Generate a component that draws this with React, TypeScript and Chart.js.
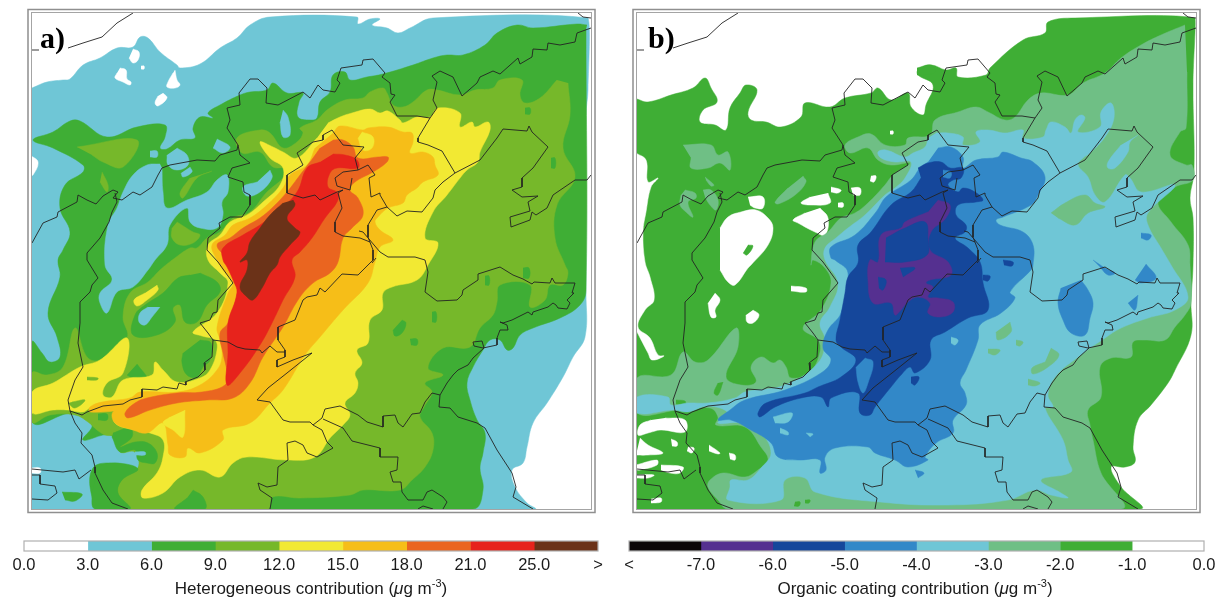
import React, { useEffect, useRef } from "react";
import { Chart, registerables } from "chart.js";

Chart.register(...registerables);

type Pair = number[];
type Ring = Pair[];

// ---------- class colours ----------
const WHITE = "#ffffff", TEAL = "#6fc6d6", GREEN = "#3fae35", LIME = "#76b82a", YELLOW = "#f2e933",
  AMBER = "#f6be18", ORANGE = "#ea6520", RED = "#e7231c", BROWN = "#6b3218";
const BLACK = "#0b0508", PURPLE = "#553090", NAVY = "#15479b", BLUE = "#3288c8", SEA = "#6fbf85";

// ---------- colour bars ----------
const heteroTicks = ["0.0", "3.0", "6.0", "9.0", "12.0", "15.0", "18.0", "21.0", "25.0", ">"];
const heteroClasses = [WHITE, TEAL, GREEN, LIME, YELLOW, AMBER, ORANGE, RED, BROWN];
const organicTicks = ["<", "-7.0", "-6.0", "-5.0", "-4.0", "-3.0", "-2.0", "-1.0", "0.0"];
const organicClasses = [BLACK, PURPLE, NAVY, BLUE, TEAL, SEA, GREEN, WHITE];

// ---------- panel a contours (map grid units) ----------
const aTeal: Ring = [[32,88],[47,82],[63,80],[70,79],[83,65],[100,58],[117,48],[133,47],[140,37],[148,38],[160,52],[177,65],[180,68],[200,64],[220,48],[237,38],[250,25],[270,17],[357,17],[358,24],[370,19],[380,19],[372,25],[387,28],[398,33],[410,28],[433,18],[588,18],[588,90],[586,115],[586,293],[585,337],[573,357],[563,377],[547,403],[533,423],[527,447],[523,463],[512,470],[515,487],[527,503],[535,509],[32,509]];
const aGaps: Ring[] = [
  [[133,49],[139,52],[138,60],[133,63],[129,58]],
  [[120,68],[126,70],[127,79],[131,82],[130,85],[123,82],[115,78],[117,73]],
  [[141,66],[144,66],[144,69],[141,69]],
  [[175,70],[177,80],[180,85],[175,88],[167,87],[168,82],[173,73]],
  [[163,93],[167,98],[158,106],[155,103],[158,96]],
  [[153,216],[157,220],[148,228],[140,232],[137,227],[143,218]],
  [[30,155],[38,162],[33,175],[30,175]],
  [[30,468],[40,468],[40,473],[30,473]],
];
const aGreen: Ring = [[587,25],[577,24],[533,28],[517,25],[497,33],[485,45],[463,55],[447,55],[433,58],[413,65],[383,74],[367,77],[350,80],[345,72],[333,75],[330,92],[320,102],[317,118],[310,120],[298,117],[299,102],[303,93],[287,93],[273,83],[267,90],[250,92],[240,95],[220,105],[208,113],[213,118],[200,117],[193,128],[195,138],[180,140],[167,149],[160,148],[165,137],[165,125],[137,127],[107,137],[80,121],[70,121],[53,132],[33,140],[53,148],[83,165],[83,172],[65,185],[60,208],[70,232],[63,250],[58,260],[60,277],[48,313],[57,337],[60,357],[50,362],[42,353],[32,342],[32,422],[73,413],[92,425],[83,440],[110,435],[120,450],[135,452],[138,468],[115,463],[93,468],[92,497],[103,509],[473,509],[483,490],[480,468],[483,453],[485,433],[477,420],[470,400],[467,383],[473,367],[483,350],[490,340],[500,340],[507,350],[513,348],[520,335],[533,328],[560,318],[580,305],[586,290],[586,30]];
const aLakes: Ring[] = [
  [[160,164],[147,165],[133,175],[123,192],[117,208],[108,225],[105,265],[112,280],[100,293],[100,303],[107,313],[117,292],[133,287],[148,270],[155,260],[167,245],[170,225],[187,208],[190,222],[200,228],[217,228],[223,215],[222,202],[228,192],[227,175],[217,180],[207,192],[187,200],[167,208],[163,192],[162,168]],
  [[283,110],[288,117],[290,135],[283,137],[280,122]],
  [[217,139],[230,147],[223,153],[213,148]],
  [[177,148],[187,155],[188,165],[177,170],[168,165],[167,155]],
  [[190,167],[192,172],[183,177],[181,173]],
  [[150,151],[157,151],[157,157],[150,157]],
  [[270,170],[272,178],[260,192],[247,196],[243,187],[257,182]],
];
const aLime: Ring = [[568,83],[570,115],[563,148],[575,177],[557,205],[555,238],[565,265],[568,273],[563,285],[550,285],[545,300],[530,307],[530,285],[500,285],[497,302],[493,315],[480,328],[470,347],[443,348],[428,368],[443,375],[425,383],[432,392],[424,407],[420,417],[432,433],[433,450],[425,467],[412,480],[400,490],[363,490],[350,495],[300,498],[272,497],[268,509],[130,509],[118,493],[122,480],[138,468],[135,452],[120,452],[115,437],[105,435],[97,430],[88,422],[75,415],[50,415],[32,422],[32,373],[47,375],[63,367],[75,328],[87,357],[100,360],[127,338],[123,317],[130,293],[148,282],[160,270],[175,258],[190,248],[197,248],[207,238],[220,232],[233,218],[250,212],[267,192],[283,178],[287,168],[273,167],[260,152],[242,153],[237,138],[260,130],[270,133],[283,148],[297,142],[303,133],[300,128],[317,120],[327,110],[345,100],[363,98],[370,92],[383,88],[387,93],[393,105],[403,107],[413,102],[427,90],[437,90],[460,95],[475,90],[493,88],[500,80],[522,80],[520,95],[525,103],[540,98],[557,80]];
const aLimeSpots: Ring[] = [
  [[77,147],[137,140],[123,167],[103,162],[92,155]],
  [[102,172],[108,185],[107,192],[100,182]],
  [[212,171],[197,178],[183,198],[180,193],[190,178]],
  [[177,222],[193,232],[200,235],[193,243],[180,245],[172,238],[172,228]],
];
const aGreenSpots: Ring[] = [
  [[200,273],[217,282],[220,292],[207,305],[197,322],[185,322],[180,305],[173,308],[175,322],[157,335],[133,335],[135,315],[145,305],[163,293],[178,278],[190,275]],
  [[200,340],[211,343],[210,360],[203,367],[197,377],[187,375],[182,363],[183,353]],
  [[137,364],[148,380],[140,382],[127,375]],
  [[193,490],[203,497],[205,509],[175,509],[187,498]],
  [[402,320],[406,323],[402,333],[395,336],[393,330]],
  [[410,339],[417,339],[417,345],[411,345]],
  [[432,312],[436,312],[436,322],[432,322]],
  [[485,276],[489,276],[489,285],[485,285]],
  [[523,268],[529,268],[529,278],[523,278]],
  [[525,108],[530,108],[530,114],[525,114]],
  [[551,158],[555,158],[555,168],[551,168]],
  [[113,433],[130,428],[132,437],[120,447],[135,442],[148,443],[157,453],[155,463],[147,463],[138,460],[135,450],[120,452],[112,437]],
  [[93,468],[115,463],[138,469],[122,480],[118,493],[130,509],[95,509],[92,497],[95,480]],
  [[98,414],[107,414],[107,420],[98,420]],
  [[62,492],[82,494],[75,501],[65,500]],
];
const aLakeSpots: Ring[] = [
  [[160,307],[152,317],[145,325],[139,322],[140,313],[148,307]],
  [[135,452],[145,452],[145,455],[135,455]],
];
const aYellow: Ring = [[328,123],[340,117],[352,113],[370,109],[380,113],[388,111],[400,120],[403,123],[417,117],[430,117],[438,108],[460,113],[460,127],[472,122],[475,127],[488,122],[490,130],[480,152],[478,162],[467,170],[460,178],[447,195],[433,212],[425,238],[438,243],[428,265],[417,280],[392,287],[383,293],[382,310],[370,320],[368,343],[357,350],[362,363],[355,373],[358,383],[355,393],[345,403],[350,415],[343,425],[330,438],[315,457],[287,460],[247,457],[233,463],[220,477],[200,470],[180,477],[163,493],[143,498],[142,490],[157,473],[163,457],[163,440],[150,433],[135,430],[115,423],[113,408],[92,407],[83,412],[68,410],[53,410],[32,413],[32,392],[53,383],[80,367],[100,360],[127,338],[123,373],[107,383],[103,395],[112,397],[123,380],[152,375],[155,362],[163,370],[177,382],[200,378],[210,370],[217,350],[215,340],[202,336],[193,332],[217,313],[228,283],[220,273],[208,260],[208,245],[220,235],[230,222],[247,215],[263,202],[280,185],[283,168],[270,158],[260,142],[273,147],[283,152],[297,158],[317,138]];
const aYellowSpots: Ring[] = [[[157,285],[158,290],[147,300],[137,306],[134,300],[145,293]]];
const aLimeOnYellow: Ring[] = [
  [[72,402],[85,400],[75,408],[68,403]],
  [[87,377],[98,378],[97,380],[87,380]],
];
const aAmber: Ring = [[333,133],[340,126],[363,130],[368,128],[388,127],[403,132],[412,133],[413,142],[410,153],[423,152],[433,157],[435,165],[438,175],[423,182],[417,188],[407,195],[403,203],[388,208],[378,217],[375,222],[380,230],[393,240],[380,247],[375,262],[368,283],[343,310],[320,337],[305,355],[283,390],[270,403],[250,423],[223,430],[223,440],[200,453],[188,448],[185,457],[170,455],[168,445],[163,423],[147,433],[133,430],[115,423],[113,412],[127,410],[90,412],[90,407],[102,402],[130,398],[140,392],[177,392],[200,385],[217,370],[222,357],[220,340],[217,327],[228,293],[233,283],[223,270],[217,260],[212,245],[225,235],[233,225],[250,218],[267,205],[283,188],[290,175],[307,165],[315,148]];
const aYellowIslands: Ring[] = [
  [[185,410],[183,437],[173,430],[163,423],[170,417]],
  [[362,132],[373,137],[372,148],[363,150],[358,138]],
];
const aOrange: Ring = [[333,140],[343,140],[353,147],[358,158],[378,157],[388,157],[387,162],[373,172],[355,182],[350,190],[358,198],[363,215],[352,228],[343,238],[338,262],[330,273],[313,283],[298,300],[283,327],[263,357],[250,383],[233,398],[207,400],[177,403],[150,410],[128,418],[125,413],[135,403],[147,398],[177,393],[202,392],[225,385],[227,373],[223,353],[220,333],[228,323],[237,293],[237,280],[228,260],[217,245],[230,238],[243,228],[260,218],[273,207],[287,192],[300,175],[313,158],[320,148]];
const aRed: Ring = [[333,154],[345,155],[357,160],[358,168],[337,168],[330,173],[328,187],[338,193],[337,202],[325,218],[312,238],[300,252],[292,260],[295,277],[283,300],[272,323],[260,345],[240,373],[227,385],[228,353],[228,323],[237,293],[233,280],[227,267],[223,260],[223,248],[243,235],[260,225],[277,212],[297,192],[307,168],[320,162]];
const aBrown: Ring = [[293,200],[295,205],[287,218],[295,228],[300,233],[290,245],[280,257],[277,265],[270,273],[262,288],[253,300],[247,297],[240,287],[247,270],[247,260],[240,262],[247,253],[250,242],[260,228],[270,215],[283,203]];

// ---------- panel b contours (map grid units) ----------
const bGreen: Ring = [[637,99],[648,102],[671,95],[693,88],[705,78],[711,88],[717,102],[703,110],[700,122],[715,125],[726,130],[730,108],[740,93],[746,85],[757,90],[748,112],[751,120],[766,122],[781,127],[801,117],[805,103],[830,107],[845,98],[871,93],[878,88],[891,100],[908,93],[911,107],[923,115],[926,105],[933,85],[918,75],[918,70],[931,65],[946,70],[956,68],[958,77],[986,75],[990,68],[1023,40],[1045,33],[1048,22],[1075,18],[1195,18],[1193,85],[1194,172],[1190,198],[1193,218],[1193,265],[1191,303],[1191,335],[1175,370],[1168,383],[1151,405],[1138,420],[1133,447],[1135,462],[1125,467],[1111,467],[1121,487],[1140,509],[637,509]];
const bGaps: Ring[] = [
  [[636,153],[646,160],[648,182],[658,178],[651,187],[646,212],[643,232],[645,262],[650,277],[654,300],[645,310],[638,327],[650,338],[658,355],[664,356],[652,360],[648,353],[636,330]],
  [[720,228],[728,217],[741,212],[756,210],[768,218],[773,228],[768,245],[751,265],[748,268],[735,285],[728,282],[720,270]],
  [[748,197],[763,197],[763,208],[755,208],[750,205]],
  [[828,193],[830,203],[811,205],[801,203],[810,197]],
  [[820,208],[828,218],[825,235],[815,232],[798,223],[793,220],[805,213]],
  [[831,187],[841,190],[838,193],[831,192]],
  [[851,188],[860,188],[860,195],[853,195]],
  [[838,203],[843,203],[843,207],[838,207]],
  [[871,176],[876,176],[874,182],[870,181]],
  [[890,131],[893,131],[893,134],[890,134]],
  [[791,286],[806,288],[806,292],[791,291]],
  [[753,310],[759,315],[753,323],[747,322],[746,315]],
  [[715,293],[720,300],[715,310],[716,317],[711,317],[708,303]],
  [[665,418],[685,420],[685,432],[661,430],[648,433],[638,435],[640,425],[651,420]],
  [[640,438],[648,445],[663,453],[648,455],[636,455]],
  [[671,439],[677,442],[677,446],[672,446]],
  [[688,447],[694,448],[692,453],[687,451]],
  [[709,445],[720,453],[718,454],[709,451]],
  [[729,453],[735,455],[735,460],[730,459]],
  [[661,465],[683,467],[680,473],[670,473],[661,470]],
  [[636,465],[657,460],[657,465],[640,470],[636,470]],
  [[636,475],[654,475],[648,478],[636,478]],
  [[651,499],[661,498],[661,502],[651,503]],
];
const bGreenInLake: Ring[] = [
  [[748,245],[753,246],[747,255],[743,253]],
  [[917,68],[931,65],[935,72],[925,75],[917,75]],
];
const bSea: Ring = [[1185,25],[1161,35],[1141,45],[1121,58],[1105,73],[1083,83],[1068,95],[1041,93],[1028,100],[1015,117],[1005,120],[988,112],[976,107],[958,112],[935,120],[930,135],[908,138],[905,145],[885,145],[871,134],[858,137],[845,145],[850,153],[868,148],[878,160],[891,165],[910,163],[893,175],[885,185],[868,203],[855,213],[841,218],[828,232],[815,242],[811,265],[813,260],[825,268],[831,283],[821,310],[803,328],[818,340],[820,352],[810,372],[791,378],[786,367],[780,360],[773,363],[761,357],[751,367],[756,382],[741,385],[726,377],[738,347],[736,328],[708,360],[695,362],[683,352],[671,375],[637,378],[637,413],[678,410],[710,408],[718,417],[716,425],[745,427],[761,447],[768,460],[758,470],[745,477],[723,473],[710,480],[708,487],[718,500],[728,509],[1121,509],[1101,473],[1093,440],[1090,425],[1088,410],[1101,397],[1100,367],[1111,358],[1131,357],[1133,342],[1145,340],[1165,340],[1175,327],[1185,315],[1191,303],[1190,265],[1188,245],[1171,222],[1158,202],[1175,187],[1193,180],[1192,165],[1186,165],[1170,155],[1180,132],[1186,128],[1187,72]];
const bSeaInGreen: Ring[] = [
  [[683,145],[711,145],[718,155],[728,152],[730,170],[720,163],[708,168],[691,168],[691,158]],
  [[705,177],[714,185],[711,186],[706,180]],
  [[685,190],[695,193],[696,198],[688,202],[693,217],[686,212],[680,205],[681,195]],
  [[703,190],[711,190],[718,200],[716,210],[710,205],[705,197]],
  [[803,176],[806,182],[795,195],[778,204],[775,202],[788,188]],
];
const bGreenInSea: Ring[] = [
  [[723,382],[718,395],[714,393],[718,383]],
  [[676,400],[685,401],[685,404],[676,404]],
  [[795,502],[800,502],[799,506],[794,506]],
  [[805,500],[810,500],[809,503],[805,503]],
];
const bTeal: Ring = [[936,133],[948,133],[963,137],[963,145],[980,142],[976,132],[988,130],[1005,133],[1023,130],[1023,138],[1043,137],[1046,130],[1051,122],[1065,127],[1071,133],[1075,120],[1081,115],[1085,118],[1078,132],[1100,127],[1101,112],[1111,103],[1114,118],[1105,137],[1090,153],[1083,158],[1078,165],[1088,177],[1095,195],[1105,202],[1125,175],[1130,178],[1141,192],[1175,185],[1148,213],[1148,225],[1161,248],[1171,265],[1188,297],[1175,310],[1148,318],[1121,328],[1105,338],[1078,357],[1055,377],[1048,395],[1053,407],[1045,408],[1063,440],[1068,460],[1071,472],[1041,480],[1061,493],[1068,498],[1051,495],[1035,490],[1008,500],[948,505],[880,502],[815,492],[805,478],[785,480],[781,500],[728,500],[730,487],[731,480],[748,480],[761,468],[771,453],[761,433],[741,423],[718,423],[728,413],[708,406],[688,412],[673,410],[637,413],[637,397],[668,397],[671,405],[688,403],[708,403],[735,398],[745,392],[785,385],[818,363],[825,340],[820,323],[830,307],[838,283],[825,260],[825,248],[836,238],[848,228],[865,215],[885,195],[895,188],[905,178],[911,162],[895,162],[881,158],[878,152],[886,150],[905,157],[913,153],[925,147],[928,138]];
const bSeaInTeal: Ring[] = [
  [[1051,213],[1065,203],[1085,195],[1095,203],[1105,207],[1088,213],[1075,225],[1058,218]],
  [[1010,322],[1011,332],[998,340],[996,332]],
  [[988,349],[1000,350],[995,355],[988,353]],
  [[1016,340],[1023,342],[1020,346],[1016,345]],
  [[1051,348],[1059,355],[1048,367],[1033,374],[1032,368],[1045,362]],
  [[1028,379],[1040,383],[1035,386],[1028,385]],
];
const bTealInSea: Ring[] = [[[1138,135],[1130,142],[1128,152],[1115,168],[1108,168],[1108,162],[1121,145]]];
const bBlueSpots: Ring[] = [
  [[1081,280],[1088,290],[1093,303],[1090,318],[1085,335],[1071,333],[1063,320],[1058,303],[1061,288]],
  [[1146,264],[1156,278],[1141,283],[1135,280]],
  [[1138,295],[1135,310],[1128,303]],
  [[1093,260],[1105,268],[1115,273],[1108,275],[1100,267]],
  [[915,470],[924,473],[918,478]],
  [[1141,233],[1151,235],[1148,240],[1141,238]],
];
const bBlue: Ring = [[938,148],[951,147],[963,157],[963,168],[976,160],[998,157],[1003,152],[1021,158],[1033,162],[1045,177],[1038,195],[1031,205],[1003,217],[996,220],[1000,225],[1023,232],[1033,245],[1033,265],[1031,270],[1010,292],[1015,298],[1001,313],[980,325],[978,340],[966,370],[960,383],[965,393],[966,405],[953,420],[953,433],[936,443],[925,457],[928,460],[908,467],[895,460],[875,453],[868,447],[835,448],[825,457],[826,470],[820,473],[820,460],[798,460],[778,457],[771,443],[751,430],[731,420],[718,420],[730,410],[745,400],[785,390],[821,373],[831,360],[823,348],[828,330],[841,313],[848,273],[835,260],[831,258],[831,247],[855,235],[876,212],[886,197],[911,180],[920,168],[928,162]];
const bTealInBlue: Ring[] = [
  [[901,328],[913,329],[913,333],[901,334]],
  [[773,417],[792,413],[788,422],[775,423]],
  [[780,428],[788,432],[788,435],[780,433]],
  [[806,433],[813,434],[810,437]],
  [[951,337],[958,340],[955,345],[951,343]],
];
const bNavy: Ring = [[918,168],[928,163],[941,162],[950,168],[963,168],[961,178],[953,180],[948,185],[958,192],[963,188],[975,192],[983,200],[976,202],[958,205],[956,215],[966,225],[965,232],[955,238],[968,248],[980,262],[983,283],[988,310],[968,318],[945,332],[931,340],[930,360],[915,373],[910,367],[901,375],[891,387],[875,407],[870,415],[860,413],[858,393],[831,398],[828,407],[821,397],[801,398],[775,407],[760,417],[758,413],[766,403],[805,393],[818,387],[841,377],[856,360],[841,347],[836,340],[840,320],[845,293],[848,277],[858,263],[858,245],[871,232],[891,205],[911,192],[921,178]];
const bBlueInNavy: Ring[] = [
  [[865,358],[873,362],[868,383],[863,393],[858,382],[856,367]],
  [[943,170],[951,172],[950,178],[943,177]],
];
const bNavyInBlue: Ring[] = [
  [[1003,260],[1013,262],[1012,266],[1004,265]],
  [[983,275],[990,276],[988,281],[983,280]],
  [[911,377],[919,377],[915,385],[911,383]],
];
const bPurple: Ring = [[938,200],[950,205],[946,218],[931,232],[930,250],[948,262],[951,275],[930,280],[926,283],[933,287],[928,297],[938,298],[953,302],[953,312],[940,317],[928,313],[930,303],[918,297],[908,302],[901,310],[895,315],[891,303],[873,303],[868,280],[870,260],[878,262],[881,235],[901,228],[905,222],[928,212]];
const bNavyInPurple: Ring[] = [
  [[886,238],[905,228],[925,222],[928,240],[927,255],[905,262],[885,262]],
  [[878,277],[886,280],[883,290],[879,288]],
  [[900,268],[915,268],[903,277]],
];

// ---------- boundary lines, panel a grid; panel b is the same map shifted ----------
const boundaries: Ring[] = [
  [[32,50],[39,50]],
  [[68,48],[83,43],[102,37],[117,23],[133,13]],
  [[32,243],[43,223],[57,217],[58,212],[77,202],[78,195],[87,200],[96,204],[103,196],[113,190],[118,192],[113,198],[122,200],[133,192],[140,195],[152,187],[158,175],[162,168],[170,165],[197,160],[215,161],[220,155],[237,150],[238,145],[227,128],[230,120],[227,108],[240,105],[239,93],[250,79],[258,79],[267,88],[266,103],[278,105],[303,92],[310,98],[318,85],[323,90],[335,92],[340,83],[337,80],[341,68],[362,65],[363,60],[373,59],[385,73],[382,77],[390,83],[391,94],[395,95],[390,102],[397,116],[417,116],[430,118],[418,138],[418,142],[428,145],[442,151],[455,173],[480,160],[497,138],[503,129],[527,131],[529,126],[532,132],[548,147],[533,168],[522,178],[522,187],[512,190],[522,197],[538,196],[528,202],[530,211],[510,217],[511,227],[530,220],[532,212],[536,215],[547,208],[553,195],[575,180],[587,180],[591,175]],
  [[430,118],[437,108],[433,100],[437,82],[432,76],[440,71],[453,77],[462,96],[477,83],[480,77],[493,71],[500,74],[518,58],[520,64],[532,57],[533,49],[547,50],[548,43],[560,45],[575,42],[577,33],[591,28]],
  [[578,13],[583,17],[591,18]],
  [[455,173],[443,182],[435,190],[433,198],[422,212],[407,211],[397,216],[387,207],[380,195],[380,193],[371,197],[369,178],[375,175],[368,165],[358,170],[343,172],[335,178],[337,186],[350,190],[352,178]],
  [[358,170],[355,158],[364,147],[343,145],[332,130],[323,135],[323,140],[313,142],[297,153],[303,165],[287,175],[287,193],[303,198],[315,195],[320,200],[337,192],[343,190],[338,193],[342,208],[335,222],[335,232],[343,236],[360,238],[370,242]],
  [[359,231],[363,232],[380,252],[388,257],[407,257],[415,257],[425,260],[428,272],[425,292],[437,301],[457,300],[462,295],[463,290],[478,280],[478,274],[500,267],[513,275],[523,279],[532,284],[534,282],[550,283],[552,278],[555,283],[575,283],[572,293],[574,293],[567,300],[570,303],[567,309],[558,308],[556,305],[553,303],[548,307],[533,312],[532,315],[528,312],[512,320],[503,323],[500,322],[507,325],[508,330],[500,330],[497,338],[497,345],[483,348],[474,346],[473,342],[482,341],[484,348],[473,358],[468,365],[458,370],[453,375],[447,383],[440,395],[432,393],[425,402],[420,413],[412,414],[403,427],[398,423],[395,415],[383,416],[383,427],[367,422],[358,415],[340,406],[325,409],[322,418],[313,425],[322,430],[327,442],[333,448],[317,457],[307,453],[303,445],[295,441],[287,443],[288,460],[278,467],[277,485],[267,487],[258,483],[260,490],[272,498],[270,509]],
  [[440,395],[439,407],[450,408],[458,417],[477,423],[485,428],[497,450],[512,473],[516,487],[513,497],[533,509]],
  [[323,419],[343,428],[352,441],[380,448],[380,457],[398,457],[397,470],[390,472],[393,482],[401,482],[402,492],[408,500],[423,500],[427,492],[432,490],[443,497],[447,502],[443,509]],
  [[418,509],[423,506],[433,509]],
  [[387,207],[377,210],[368,225],[368,237],[373,250],[373,260],[358,275],[342,274],[325,292],[320,288],[317,295],[307,297],[303,300],[295,320],[278,327],[278,340],[285,350],[285,357],[277,360],[277,367],[293,360],[312,353],[287,373],[268,388],[257,400],[270,402],[283,420],[290,422],[310,422],[313,425]],
  [[372,263],[376,258]],
  [[213,340],[228,342],[237,347],[245,349],[260,350],[262,353],[270,346],[277,352],[285,352]],
  [[238,145],[240,155],[250,163],[232,168],[228,177],[243,182],[244,192],[250,195],[250,205],[242,217],[230,217],[219,223],[220,228],[208,238],[207,250],[218,262],[233,283],[218,300],[217,312],[213,313],[210,320],[200,323],[208,333],[213,340],[212,357],[204,363],[205,370],[198,377],[185,382],[186,385],[179,383],[177,389],[163,387],[157,390],[142,389],[142,397],[130,400],[123,404],[103,406],[87,412],[82,415],[70,411],[68,400],[75,380],[83,367],[78,343],[80,323],[80,302],[90,292],[92,285],[98,278],[87,260],[87,253],[100,238],[109,222],[112,212],[117,202],[115,193]],
  [[70,411],[75,423],[82,433],[81,443],[92,455],[95,467],[95,473],[103,490],[112,503],[128,509]],
  [[32,469],[63,472],[75,470],[79,479],[91,470]],
  [[32,475],[40,475],[40,484],[55,486],[57,493],[48,500],[32,499]],
];

const panelA: [string, Ring[]][] = [
  [TEAL, [aTeal]], [WHITE, aGaps], [GREEN, [aGreen]], [TEAL, aLakes], [LIME, [aLime]], [LIME, aLimeSpots],
  [GREEN, aGreenSpots], [TEAL, aLakeSpots], [YELLOW, aYellowSpots], [YELLOW, [aYellow]], [LIME, aLimeOnYellow],
  [AMBER, [aAmber]], [YELLOW, aYellowIslands], [ORANGE, [aOrange]], [RED, [aRed]], [BROWN, [aBrown]],
];
const panelB: [string, Ring[]][] = [
  [GREEN, [bGreen]], [WHITE, bGaps], [GREEN, bGreenInLake], [SEA, [bSea]], [SEA, bSeaInGreen], [GREEN, bGreenInSea],
  [TEAL, [bTeal]], [SEA, bSeaInTeal], [TEAL, bTealInSea], [BLUE, bBlueSpots], [BLUE, [bBlue]], [TEAL, bTealInBlue],
  [NAVY, [bNavy]], [BLUE, bBlueInNavy], [NAVY, bNavyInBlue], [PURPLE, [bPurple]], [NAVY, bNavyInPurple],
];

const framePlugin = {
  id: "frame",
  afterDraw(chart: any) {
    const { ctx, chartArea: a } = chart;
    ctx.save();
    ctx.strokeStyle = "#a4a4a4";
    ctx.lineWidth = 1;
    ctx.strokeRect(a.left - 0.5, a.top - 0.5, a.right - a.left + 1, a.bottom - a.top + 1);
    ctx.lineWidth = 1.5;
    ctx.strokeStyle = "#8f8f8f";
    ctx.strokeRect(a.left - 4, a.top - 3.5, a.right - a.left + 8, a.bottom - a.top + 7);
    ctx.restore();
  },
};

const barFramePlugin = {
  id: "barFrame",
  afterDraw(chart: any) {
    const { ctx, chartArea: a } = chart;
    ctx.save();
    ctx.strokeStyle = "#b0b0b0";
    ctx.lineWidth = 1.2;
    ctx.strokeRect(a.left, a.top, a.right - a.left, a.bottom - a.top);
    ctx.restore();
  },
};

function makeMap(canvas: HTMLCanvasElement, layers: [string, Ring[]][], xMin: number, shift: number) {
  const datasets: any[] = [];
  for (const [color, rings] of layers) {
    for (const ring of rings) {
      datasets.push({
        data: ring.map(([x, y]) => ({ x, y })),
        showLine: true, fill: "shape", tension: 0.4, pointRadius: 0,
        backgroundColor: color, borderColor: color, borderWidth: 0.5,
      });
    }
  }
  for (const line of boundaries) {
    datasets.push({
      data: line.map(([x, y]) => ({ x: x + shift, y })),
      showLine: true, fill: false, tension: 0, pointRadius: 0,
      borderColor: "#222222", borderWidth: 0.9,
    });
  }
  datasets.forEach((d, i) => { d.order = datasets.length - i; });
  return new Chart(canvas, {
    type: "scatter",
    data: { datasets },
    plugins: [framePlugin],
    options: {
      animation: false, responsive: false, events: [],
      layout: { padding: { left: 6, right: 7, top: 5, bottom: 6 } },
      plugins: { legend: { display: false }, tooltip: { enabled: false } },
      scales: {
        x: { type: "linear", display: false, min: xMin, max: xMin + 559 },
        y: { type: "linear", display: false, reverse: true, min: 13, max: 509 },
      },
    },
  } as any);
}

function makeBar(canvas: HTMLCanvasElement, classes: string[], ticks: string[], left: number, right: number) {
  return new Chart(canvas, {
    type: "bar",
    data: {
      labels: [""],
      datasets: classes.map((c) => ({ data: [1], backgroundColor: c, borderWidth: 0, barPercentage: 1, categoryPercentage: 1 })),
    },
    plugins: [barFramePlugin],
    options: {
      indexAxis: "y", animation: false, responsive: false, events: [],
      layout: { padding: { left, right, top: 6, bottom: 0 } },
      plugins: { legend: { display: false }, tooltip: { enabled: false } },
      scales: {
        y: { stacked: true, display: false },
        x: {
          stacked: true, min: 0, max: classes.length,
          grid: { display: false, drawTicks: false }, border: { display: false },
          afterFit: (s: any) => { s.height = 30; },
          ticks: {
            stepSize: 1, autoSkip: false, maxRotation: 0, padding: 5,
            color: "#1a1a1a", font: { family: "'Liberation Sans', Arial, sans-serif", size: 16.5 },
            callback: (v: any) => ticks[Number(v)],
          },
        },
      },
    },
  } as any);
}

const abs = (left: number, top: number, width: number, height: number): React.CSSProperties => ({
  position: "absolute", left, top, width, height, display: "block",
});

const panelLabel: React.CSSProperties = {
  position: "absolute", fontFamily: "'Liberation Serif', serif", fontWeight: 700, fontSize: 30, lineHeight: "30px", color: "#000",
};
const barTitle: React.CSSProperties = {
  position: "absolute", top: 579, width: 500, textAlign: "center", fontFamily: "'Liberation Sans', Arial, sans-serif",
  fontSize: 17, lineHeight: "20px", color: "#1a1a1a", whiteSpace: "nowrap",
};

export default function App() {
  const mapA = useRef<HTMLCanvasElement>(null);
  const mapB = useRef<HTMLCanvasElement>(null);
  const barA = useRef<HTMLCanvasElement>(null);
  const barB = useRef<HTMLCanvasElement>(null);
  useEffect(() => {
    const charts = [
      makeMap(mapA.current!, panelA, 32, 0),
      makeMap(mapB.current!, panelB, 637, 605),
      makeBar(barA.current!, heteroClasses, heteroTicks, 24, 22),
      makeBar(barB.current!, organicClasses, organicTicks, 19, 24),
    ];
    return () => charts.forEach((c) => c.destroy());
  }, []);
  return (
    <div style={{ position: "absolute", left: 0, top: 0, width: 1228, height: 606, overflow: "hidden", background: "#fff" }}>
      <canvas ref={mapA} width={572} height={507} style={abs(26, 8, 572, 507)} />
      <canvas ref={mapB} width={572} height={507} style={abs(631, 8, 572, 507)} />
      <canvas ref={barA} width={620} height={46} style={abs(0, 535, 620, 46)} />
      <canvas ref={barB} width={618} height={46} style={abs(610, 535, 618, 46)} />
      <div style={{ ...panelLabel, left: 40, top: 23 }}>a)</div>
      <div style={{ ...panelLabel, left: 648, top: 23 }}>b)</div>
      <div style={{ ...barTitle, left: 61 }}>Heterogeneous contribution (<i>μ</i>g m<sup style={{ fontSize: 11, lineHeight: 0 }}>-3</sup>)</div>
      <div style={{ ...barTitle, left: 665 }}>Organic coating contribution (<i>μ</i>g m<sup style={{ fontSize: 11, lineHeight: 0 }}>-3</sup>)</div>
    </div>
  );
}
